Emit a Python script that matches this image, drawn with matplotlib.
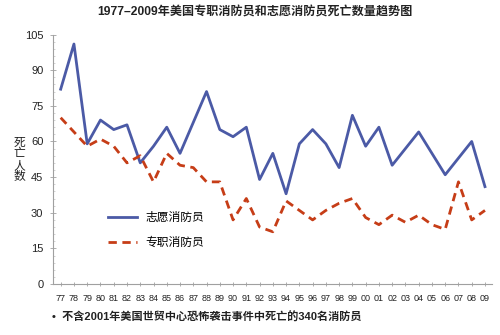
import numpy as np
import matplotlib
matplotlib.use('Agg')
from matplotlib import pyplot as plt
from matplotlib.ticker import MultipleLocator

plt.rcParams['font.family'] = ['Liberation Sans', 'Noto Sans CJK SC']

years = ['77', '78', '79', '80', '81', '82', '83', '84', '85', '86', '87',
         '88', '89', '90', '91', '92', '93', '94', '95', '96', '97', '98',
         '99', '00', '01', '02', '03', '04', '05', '06', '07', '08', '09']

# volunteer firefighter deaths
volunteer = [82, 101, 59, 69, 65, 67, 51, 58, 66, 55, 68,
             81, 65, 62, 66, 44, 55, 38, 59, 65, 59, 49,
             71, 58, 66, 50, 57, 64, 55, 46, 53, 60, 41]

# career firefighter deaths
career = [70, 64, 58, 61, 58, 51, 54, 43, 55, 50, 49,
          43, 43, 27, 36, 24, 22, 35, 31, 27, 31, 34,
          36, 28, 25, 29, 26, 29, 25, 23, 43, 27, 31]

x = np.arange(len(years))

fig = plt.figure(figsize=(5, 3.35), dpi=100)
ax = fig.add_axes([0.106, 0.152, 0.878, 0.745])

blue = '#4b5aa6'
red = '#c63d17'
ax.plot(x, volunteer, color=blue, lw=2.0, label='志愿消防员')
ax.plot(x, career, color=red, lw=2.0, ls=(0, (3, 2)), label='专职消防员')

ax.set_xlim(-0.58, 32.53)
ax.set_ylim(0, 105)
ax.set_yticks(np.arange(0, 106, 15))
ax.yaxis.set_minor_locator(MultipleLocator(3))
ax.set_xticks(x)
ax.set_xticklabels(years)

for s in ['top', 'right']:
    ax.spines[s].set_visible(False)
for s in ['left', 'bottom']:
    ax.spines[s].set_color('#a0a0a0')
    ax.spines[s].set_linewidth(0.8)

ax.tick_params(axis='y', direction='inout', length=4, width=0.6, colors='#a0a0a0',
               labelcolor='#222222', labelsize=8, pad=5)
ax.tick_params(axis='y', which='minor', direction='in', length=1.5, width=0.4, colors='#b0b0b0')
ax.tick_params(axis='x', direction='inout', length=3, width=0.6, colors='#a0a0a0',
               labelcolor='#222222', labelsize=6.5, pad=6)

# y axis title, one character per line
ax.text(-0.077, 0.497, '死\n亡\n人\n数', transform=ax.transAxes, fontsize=8.5,
        ha='center', va='center', linespacing=0.95, color='#222222')

ax.legend(loc='center left', bbox_to_anchor=(0.125, 0.215), frameon=False,
          fontsize=8.5, handlelength=2.5, handletextpad=0.7, labelspacing=1.1,
          borderpad=0, borderaxespad=0)

fig.text(0.51, 0.962, '1977–2009年美国专职消防员和志愿消防员死亡数量趋势图',
         ha='center', va='center', fontsize=8.7, fontweight='bold', color='#222222')
fig.text(0.105, 0.052, '•  不含2001年美国世贸中心恐怖袭击事件中死亡的340名消防员',
         ha='left', va='center', fontsize=8, fontweight='bold', color='#222222')

fig.savefig('out.png', dpi=100)
